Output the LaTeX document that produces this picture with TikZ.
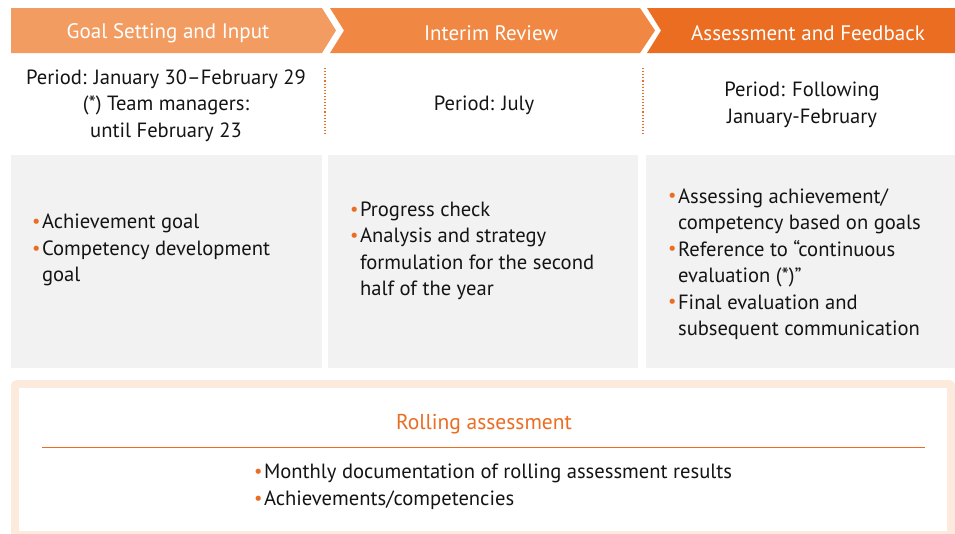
\documentclass[tikz,border=0pt]{standalone}
\usepackage{fontspec}
\setmainfont{PT Sans}
\usetikzlibrary{positioning}
\definecolor{stepone}{HTML}{F39C62}
\definecolor{steptwo}{HTML}{F08843}
\definecolor{stepthree}{HTML}{EB6D22}
\definecolor{boxgray}{HTML}{F2F2F2}
\definecolor{peach}{HTML}{FCEADC}
\definecolor{inkdark}{HTML}{141414}
\newcommand{\bul}{\textcolor{stepthree}{\raisebox{0.1ex}{\scalebox{0.9}{\textbullet}}}\hspace{1.5pt}}
\newcommand{\hang}{\phantom{\scalebox{0.9}{\textbullet}}\hspace{1.5pt}}
\tikzset{
  head/.style={text=white, font=\fontsize{21}{24}\selectfont},
  period/.style={align=center, text=inkdark, font=\fontsize{20.6}{26.5}\selectfont},
  items/.style={align=left, anchor=west, text=inkdark, font=\fontsize{20.6}{26.5}\selectfont, inner sep=0pt},
  panel/.style={fill=boxgray, inner sep=0pt, minimum height=213pt},
  sep/.style={draw=stepthree, dotted, line width=1.1pt}
}
\begin{document}
\begin{tikzpicture}[x=1pt, y=-1pt]
  \useasboundingbox (0,0) rectangle (955,533);
  % Kopfzeile: drei Pfeile
  \fill [stepone] (11,8) -- (322,8) -- (336,30.5) -- (322,53) -- (11,53) -- cycle;
  \fill [steptwo] (330,8) -- (640,8) -- (655,30.5) -- (640,53) -- (330,53) -- (344,30.5) -- cycle;
  \fill [stepthree] (647,8) -- (955,8) -- (955,53) -- (647,53) -- (661,30.5) -- cycle;
  \node (h1) [head] at (168,33) {Goal Setting and Input};
  \node (h2) [head] at (491,33) {Interim Review};
  \node (h3) [head] at (808,33) {Assessment and Feedback};
  % Zeitraeume
  \node (per1) [period] at (166,105.5) {Period: January 30--February 29\\(*) Team managers:\\until February 23};
  \node (per2) [period] at (484,105) {Period: July};
  \node (per3) [period] at (802,105) {Period: Following\\January-February};
  \draw [sep] (325,68) -- (325,136);
  \draw [sep] (643,68) -- (643,136);
  % Inhalte
  \node (p1) [panel, minimum width=311pt] at (166.5,261.5) {};
  \node (p2) [panel, minimum width=310pt] at (483,261.5) {};
  \node (p3) [panel, minimum width=309pt] at (800.5,261.5) {};
  \node (t1) [items] at (32,250) {\bul Achievement goal\\\bul Competency development\\\hang goal};
  \node (t2) [items] at (350,251) {\bul Progress check\\\bul Analysis and strategy\\\hang formulation for the second\\\hang half of the year};
  \node (t3) [items] at (668,264) {\bul Assessing achievement/\\\hang competency based on goals\\\bul Reference to \textquotedblleft continuous\\\hang evaluation (*)\textquotedblright\\\bul Final evaluation and\\\hang subsequent communication};
  % Laufende Bewertung
  \fill [peach, rounded corners=6pt] (11,380) rectangle (955,560);
  \fill [white] (19,388) rectangle (947,531);
  \node (roll) [text=stepthree, font=\fontsize{21.5}{24}\selectfont] at (484,424) {Rolling assessment};
  \draw [stepthree, line width=0.8pt] (42,447) -- (925,447);
  \node (t4) [items] at (254,487) {\bul Monthly documentation of rolling assessment results\\\bul Achievements/competencies};
\end{tikzpicture}
\end{document}
